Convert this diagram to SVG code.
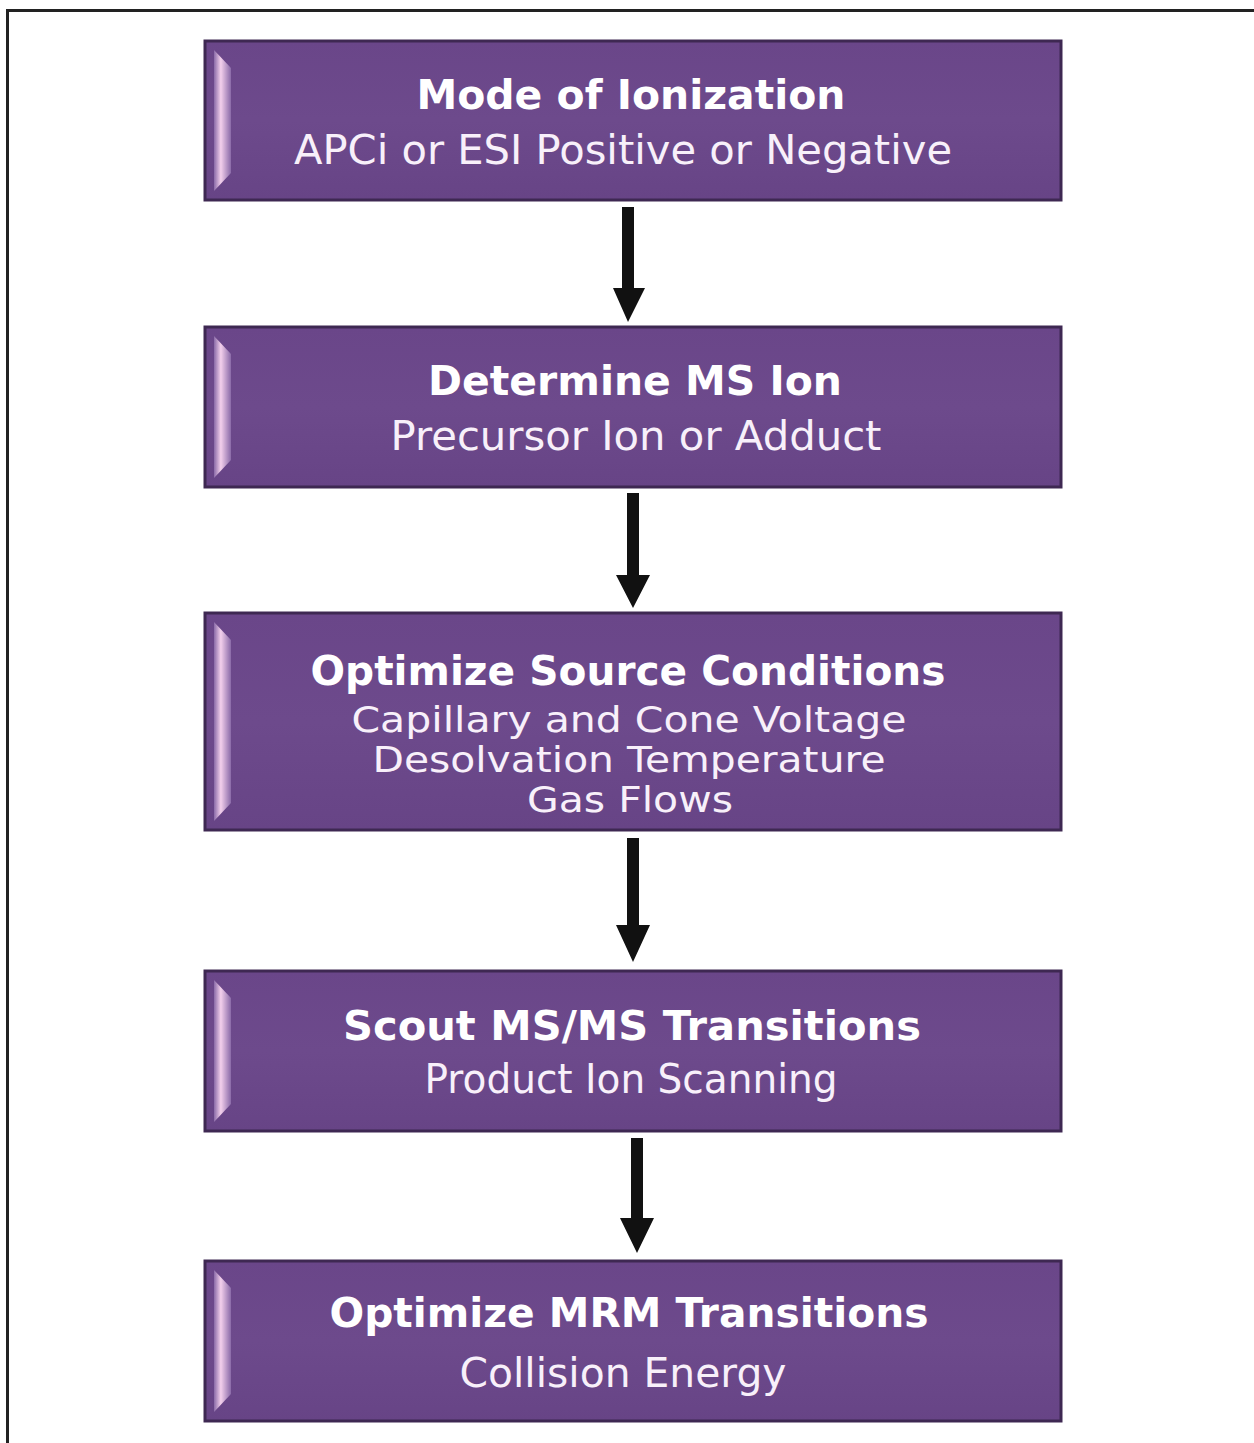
<svg xmlns="http://www.w3.org/2000/svg" width="1254" height="1443" viewBox="0 0 1254 1443">
<defs>
<linearGradient id="boxFill" x1="0" y1="0" x2="0" y2="1">
<stop offset="0" stop-color="#6a4689"/>
<stop offset="0.5" stop-color="#6d4a8c"/>
<stop offset="1" stop-color="#674486"/>
</linearGradient>
<linearGradient id="bevel" x1="0" y1="0" x2="1" y2="0">
<stop offset="0" stop-color="#8a6aa8"/>
<stop offset="0.4" stop-color="#f3d0ec"/>
<stop offset="1" stop-color="#8a6aa8"/>
</linearGradient>
<style>
.box{fill:url(#boxFill);stroke:#3e2852;stroke-width:3}
.bev{fill:url(#bevel)}
.t{font-family:"DejaVu Sans","Verdana",sans-serif;font-weight:bold;font-size:41px;fill:#ffffff;text-anchor:middle}
.s{font-family:"DejaVu Sans","Verdana",sans-serif;font-size:40px;fill:#f8f0fa;text-anchor:middle}
.s3{font-size:36px}
.arr{fill:#111111}
</style>
</defs>
<rect x="0" y="0" width="1254" height="1443" fill="#ffffff"/>
<rect x="7.5" y="10.5" width="1270" height="1460" fill="none" stroke="#222222" stroke-width="3"/>

<g id="connectors">
<path class="arr" d="M622,207 H634 V288 H645 L628,322 L613,288 H622 Z"/>
<path class="arr" d="M627,493 H639 V575 H650 L633,608 L616,575 H627 Z"/>
<path class="arr" d="M627,838 H639 V925 H650 L633,962 L616,925 H627 Z"/>
<path class="arr" d="M631,1138 H643 V1218 H654 L637,1253 L620,1218 H631 Z"/>
</g>

<g id="node1">
<rect class="box" x="205" y="41" width="856" height="159"/>
<polygon class="bev" points="214,50 231,68 231,173 214,191"/>
<text class="t" x="631" y="109" textLength="429" lengthAdjust="spacingAndGlyphs">Mode of Ionization</text>
<text class="s" x="623" y="164" textLength="658" lengthAdjust="spacingAndGlyphs">APCi or ESI Positive or Negative</text>
</g>

<g id="node2">
<rect class="box" x="205" y="327" width="856" height="160"/>
<polygon class="bev" points="214,336 231,354 231,460 214,478"/>
<text class="t" x="635" y="395" textLength="414" lengthAdjust="spacingAndGlyphs">Determine MS Ion</text>
<text class="s" x="636" y="450" textLength="491" lengthAdjust="spacingAndGlyphs">Precursor Ion or Adduct</text>
</g>

<g id="node3">
<rect class="box" x="205" y="613" width="856" height="217"/>
<polygon class="bev" points="214,622 231,640 231,803 214,821"/>
<text class="t" x="628" y="685" textLength="635" lengthAdjust="spacingAndGlyphs">Optimize Source Conditions</text>
<text class="s s3" x="629" y="732" textLength="555" lengthAdjust="spacingAndGlyphs">Capillary and Cone Voltage</text>
<text class="s s3" x="629" y="772" textLength="513" lengthAdjust="spacingAndGlyphs">Desolvation Temperature</text>
<text class="s s3" x="630" y="812" textLength="206" lengthAdjust="spacingAndGlyphs">Gas Flows</text>
</g>

<g id="node4">
<rect class="box" x="205" y="971" width="856" height="160"/>
<polygon class="bev" points="214,980 231,998 231,1104 214,1122"/>
<text class="t" x="632" y="1040" textLength="578" lengthAdjust="spacingAndGlyphs">Scout MS/MS Transitions</text>
<text class="s" x="631" y="1093" textLength="413" lengthAdjust="spacingAndGlyphs">Product Ion Scanning</text>
</g>

<g id="node5">
<rect class="box" x="205" y="1261" width="856" height="160"/>
<polygon class="bev" points="214,1270 231,1288 231,1394 214,1412"/>
<text class="t" x="629" y="1327" textLength="599" lengthAdjust="spacingAndGlyphs">Optimize MRM Transitions</text>
<text class="s" x="623" y="1387" textLength="327" lengthAdjust="spacingAndGlyphs">Collision Energy</text>
</g>
</svg>
